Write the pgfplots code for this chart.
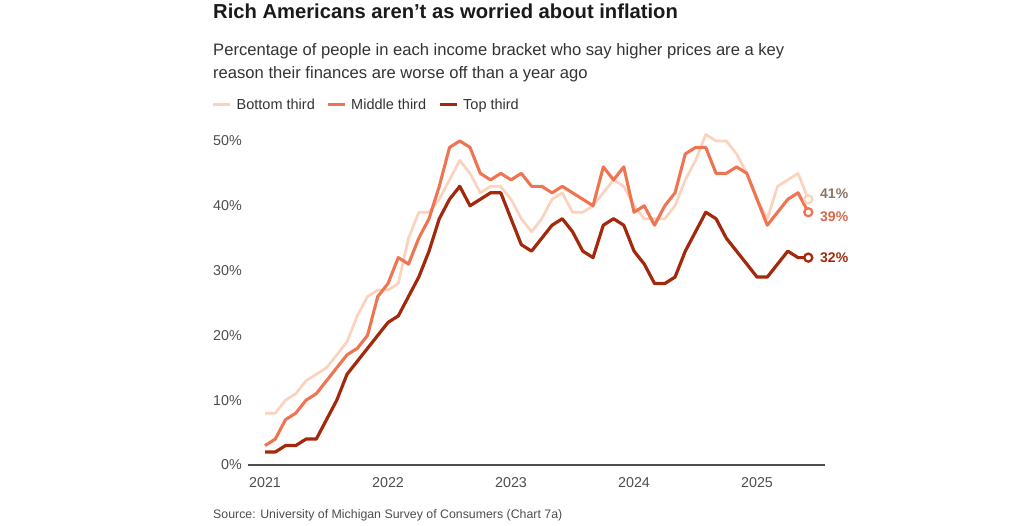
\documentclass[border=0pt]{standalone}
\usepackage{fontspec}
\setmainfont{Liberation Sans}
\usepackage{pgfplots}
\usepackage{pgfplotstable}
\pgfplotsset{compat=1.18}

\definecolor{cbot}{HTML}{FBD3BD}
\definecolor{cmid}{HTML}{EF7552}
\definecolor{ctop}{HTML}{A3290C}
\definecolor{cbotlab}{HTML}{8B7566}
\definecolor{gridc}{HTML}{E2E2E2}
\definecolor{ttl}{HTML}{1A1A1A}
\definecolor{sub}{HTML}{333333}
\definecolor{tickc}{HTML}{4D4D4D}

% m = months since Jan 2021; share of each income third (percent)
\pgfplotstableread{
m  bot mid top
0  8   3   2
1  8   4   2
2  10  7   3
3  11  8   3
4  13  10  4
5  14  11  4
6  15  13  7
7  17  15  10
8  19  17  14
9  23  18  16
10 26  20  18
11 27  26  20
12 27  28  22
13 28  32  23
14 35  31  26
15 39  35  29
16 39  38  33
17 41  43  38
18 44  49  41
19 47  50  43
20 45  49  40
21 42  45  41
22 43  44  42
23 43  45  42
24 41  44  38
25 38  45  34
26 36  43  33
27 38  43  35
28 41  42  37
29 42  43  38
30 39  42  36
31 39  41  33
32 40  40  32
33 42  46  37
34 44  44  38
35 43  46  37
36 40  39  33
37 38  40  31
38 38  37  28
39 38  40  28
40 40  42  29
41 44  48  33
42 47  49  36
43 51  49  39
44 50  45  38
45 50  45  35
46 48  46  33
47 45  45  31
48 41  41  29
49 38  37  29
50 43  39  31
51 44  41  33
52 45  42  32
53 41  39  32
}\survey

\begin{document}
\begin{tikzpicture}
\begin{scope}[x=1pt,y=1pt]
\useasboundingbox (0,0) rectangle (1024,525);

% header
\node[anchor=base west, inner sep=0pt, text=ttl] at (213,506)
  {\fontsize{20.2}{23}\selectfont\bfseries Rich Americans aren’t as worried about inflation};
\node[anchor=base west, inner sep=0pt, text=sub] at (213,469.3)
  {\fontsize{16.6}{20}\selectfont Percentage of people in each income bracket who say higher prices are a key};
\node[anchor=base west, inner sep=0pt, text=sub] at (213,446.5)
  {\fontsize{16.6}{20}\selectfont reason their finances are worse off than a year ago};

% legend
\draw[cbot, line width=3pt] (213,420) -- (230,420);
\node[anchor=base west, inner sep=0pt, text=sub] at (236.5,415) {\fontsize{14.5}{17}\selectfont Bottom third};
\draw[cmid, line width=3pt] (327.5,420) -- (344.5,420);
\node[anchor=base west, inner sep=0pt, text=sub] at (351,415) {\fontsize{14.5}{17}\selectfont Middle third};
\draw[ctop, line width=3pt] (440,420) -- (457,420);
\node[anchor=base west, inner sep=0pt, text=sub] at (463,415) {\fontsize{14.5}{17}\selectfont Top third};

% y tick labels (axis has no y line)
\foreach \v/\yy in {0/60,10/124.8,20/189.6,30/254.4,40/319.2,50/384} {
  \node[anchor=east, inner sep=0pt, text=tickc] at (242,\yy) {\fontsize{14.3}{16}\selectfont \v\%};
}

% end labels
\node[anchor=west, inner sep=0pt, text=cbotlab] at (820,331) {\fontsize{14}{16}\selectfont\bfseries 41\%};
\node[anchor=west, inner sep=0pt, text=cmid!90!black] at (820,308.3) {\fontsize{14}{16}\selectfont\bfseries 39\%};
\node[anchor=west, inner sep=0pt, text=ctop] at (820,267.7) {\fontsize{14}{16}\selectfont\bfseries 32\%};

% source
\node[anchor=base west, inner sep=0pt, text=tickc] at (213,6.7)
  {\fontsize{12.35}{14}\selectfont Source: University of Michigan Survey of Consumers (Chart 7a)};
\end{scope}

\begin{axis}[
  at={(248pt,60pt)}, anchor=south west,
  scale only axis, width=577pt, height=337pt,
  xmin=-1.659, xmax=54.63,
  ymin=0, ymax=52,
  clip=false,
  axis x line*=bottom,
  axis y line=none,
  x axis line style={-, draw=tickc, line width=1.3pt},
  xtick={0,12,24,36,48},
  xticklabels={2021,2022,2023,2024,2025},
  major tick length=0pt,
  xticklabel style={anchor=base, inner sep=0pt, yshift=-22.3pt, text=tickc,
    font=\fontsize{14.3}{16}\selectfont},
  ytick={10,20,30,40,50},
  ymajorgrids,
  grid style={draw=gridc, line width=1pt},
]
\addplot[cbot, line width=2.7pt, line join=round] table[x=m, y=bot] {\survey};
\addplot[cmid, line width=3.1pt, line join=round] table[x=m, y=mid] {\survey};
\addplot[ctop, line width=3.2pt, line join=round] table[x=m, y=top] {\survey};
\addplot[only marks, mark=*, mark size=4pt, mark options={draw=cbot, fill=white, line width=2.3pt}] coordinates {(53,41)};
\addplot[only marks, mark=*, mark size=4pt, mark options={draw=cmid, fill=white, line width=2.3pt}] coordinates {(53,39)};
\addplot[only marks, mark=*, mark size=4pt, mark options={draw=ctop, fill=white, line width=2.3pt}] coordinates {(53,32)};
\end{axis}
\end{tikzpicture}
\end{document}
